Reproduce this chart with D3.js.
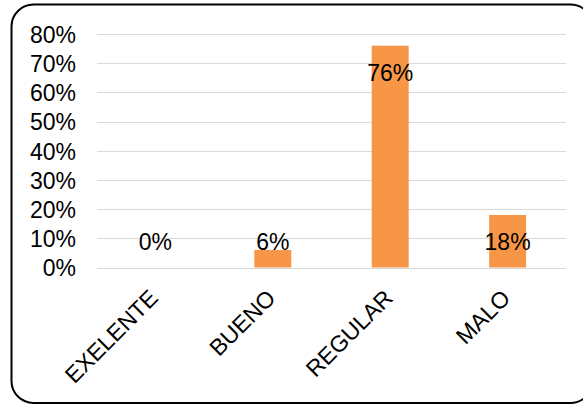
<!DOCTYPE html>
<meta charset="utf-8">
<style>
body { margin: 0; background: #fff; }
text { font-family: "Liberation Sans", Arial, sans-serif; fill: #000; }
.grid line { stroke: #d9d9d9; stroke-width: 1.2px; }
</style>
<body>
<script src="https://d3js.org/d3.v7.min.js"></script>
<script>

// chart data
var categories = ["EXELENTE", "BUENO", "REGULAR", "MALO"];
var values = [0, 6, 76, 18];
var yTicks = [0, 10, 20, 30, 40, 50, 60, 70, 80];

var W = 583, H = 405;
var margin = {top: 34, left: 97, right: 17, bottom: 137.5};
var fs = "23px";

var svg = d3.select("body").append("svg")
    .attr("width", W)
    .attr("height", H);

// rounded frame (runs off the right edge like the original)
svg.append("rect")
    .attr("x", 11.5).attr("y", 4.5)
    .attr("width", 581).attr("height", 398.5)
    .attr("rx", 22).attr("ry", 22)
    .attr("fill", "none")
    .attr("stroke", "#000")
    .attr("stroke-width", 2);

var x = d3.scaleBand()
    .domain(categories)
    .range([margin.left, W - margin.right])
    .paddingInner(0.685)
    .paddingOuter(0.34);

var y = d3.scaleLinear()
    .domain([0, 80])
    .range([H - margin.bottom, margin.top]);

// gridlines
svg.append("g")
    .attr("class", "grid")
    .selectAll("line")
    .data(yTicks)
    .enter().append("line")
    .attr("x1", margin.left)
    .attr("x2", W - margin.right)
    .attr("y1", function(d) { return Math.round(y(d)) + 0.5; })
    .attr("y2", function(d) { return Math.round(y(d)) + 0.5; });

// y axis labels
var yAxis = svg.append("g")
    .attr("transform", "translate(" + (margin.left - 21) + ",0)")
    .call(d3.axisLeft(y).tickValues(yTicks).tickSize(0).tickPadding(0)
        .tickFormat(function(d) { return d + "%"; }));
yAxis.select(".domain").remove();
yAxis.selectAll("text")
    .style("font-size", fs)
    .attr("font-family", null)
    .attr("dy", "0.36em");

// bars
svg.selectAll(".bar")
    .data(values)
    .enter().append("rect")
    .attr("class", "bar")
    .attr("x", function(d, i) { return x(categories[i]); })
    .attr("width", x.bandwidth())
    .attr("y", function(d) { return y(d); })
    .attr("height", function(d) { return y(0) - y(d); })
    .attr("fill", "#f79646");

// value labels
svg.selectAll(".vlabel")
    .data(values)
    .enter().append("text")
    .attr("class", "vlabel")
    .attr("x", function(d, i) { return x(categories[i]) + x.bandwidth() / 2; })
    .attr("y", function(d) { return Math.min(y(d) + 27, y(0) - 25.5); })
    .attr("dy", "0.36em")
    .attr("text-anchor", "middle")
    .style("font-size", fs)
    .text(function(d) { return d + "%"; });

// x axis labels, rotated
var xAxis = svg.append("g")
    .attr("transform", "translate(0," + y(0) + ")")
    .call(d3.axisBottom(x).tickSize(0).tickPadding(0));
xAxis.select(".domain").remove();
xAxis.selectAll("text")
    .attr("font-family", null)
    .style("font-size", fs)
    .attr("text-anchor", "end")
    .attr("dy", null)
    .attr("y", 0)
    .attr("transform", "translate(4,32) rotate(-45)");

</script>
</body>
